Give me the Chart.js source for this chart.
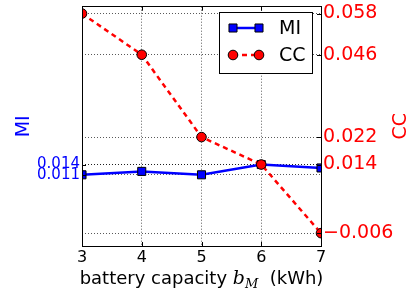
<!DOCTYPE html>
<html lang="en">
<head>
<meta charset="UTF-8">
<title>MI and CC vs battery capacity</title>
<script src="https://cdn.jsdelivr.net/npm/chart.js"></script>
<style>
  html, body { margin: 0; padding: 0; background: #fff; }
  #wrap { width: 412px; height: 292px; }
</style>
</head>
<body>
<div id="wrap"><canvas id="chart" width="412" height="292"></canvas></div>
<script>
// data
const capacity = [3, 4, 5, 6, 7];
const miValues = [0.011, 0.012, 0.011, 0.014, 0.013];
const ccValues = [0.058, 0.046, 0.022, 0.014, -0.006];
const miTicks = [0.011, 0.014];
const ccTicks = [-0.006, 0.014, 0.022, 0.046, 0.058];
const yMin = -0.00975, yMax = 0.060;

const FONT = "'DejaVu Sans', sans-serif";

function fmt(v) {
  const s = Math.abs(v).toFixed(3);
  return v < 0 ? '\u2212' + s : s;
}

// frame + inward tick marks, matplotlib style
const framePlugin = {
  id: 'frame',
  afterDatasetsDraw(chart) {
    const {ctx, chartArea: a, scales} = chart;
    ctx.save();
    ctx.strokeStyle = '#000';
    ctx.lineWidth = 1;
    ctx.setLineDash([]);
    ctx.beginPath();
    scales.x.ticks.forEach(t => {
      const px = Math.round(scales.x.getPixelForValue(t.value)) + 0.5;
      ctx.moveTo(px, a.bottom); ctx.lineTo(px, a.bottom - 4);
      ctx.moveTo(px, a.top); ctx.lineTo(px, a.top + 4);
    });
    scales.yL.ticks.forEach(t => {
      const py = Math.round(scales.yL.getPixelForValue(t.value)) + 0.5;
      ctx.moveTo(a.left, py); ctx.lineTo(a.left + 4, py);
    });
    scales.yR.ticks.forEach(t => {
      const py = Math.round(scales.yR.getPixelForValue(t.value)) + 0.5;
      ctx.moveTo(a.right, py); ctx.lineTo(a.right - 4, py);
    });
    ctx.stroke();
    ctx.strokeRect(Math.round(a.left) + 0.5, Math.round(a.top) - 0.5,
                   Math.round(a.right - a.left), Math.round(a.bottom - a.top) + 1);
    ctx.restore();
  }
};

// legend box inside the axes, upper right
const legendPlugin = {
  id: 'boxLegend',
  afterDraw(chart) {
    const ctx = chart.ctx;
    const box = {x: 219.5, y: 12.5, w: 93, h: 61};
    ctx.save();
    ctx.fillStyle = '#fff';
    ctx.fillRect(box.x, box.y, box.w, box.h);
    ctx.strokeStyle = '#000';
    ctx.lineWidth = 1;
    ctx.strokeRect(box.x, box.y, box.w, box.h);
    const rows = [28, 55];
    chart.data.datasets.forEach((ds, i) => {
      const y = rows[i];
      ctx.strokeStyle = ds.borderColor;
      ctx.lineWidth = ds.borderWidth;
      ctx.setLineDash(ds.borderDash || []);
      ctx.beginPath();
      ctx.moveTo(233, y); ctx.lineTo(259, y);
      ctx.stroke();
      ctx.setLineDash([]);
      [233, 259].forEach(px => {
        ctx.fillStyle = ds.pointBackgroundColor;
        ctx.strokeStyle = ds.pointBorderColor;
        ctx.lineWidth = ds.pointBorderWidth;
        ctx.beginPath();
        if (ds.pointStyle === 'rect') {
          const h = Math.SQRT1_2 * ds.pointRadius;
          ctx.rect(px - h, y - h, 2 * h, 2 * h);
        } else {
          ctx.arc(px, y, ds.pointRadius, 0, Math.PI * 2);
        }
        ctx.fill(); ctx.stroke();
      });
      ctx.fillStyle = '#000';
      ctx.font = '19px ' + FONT;
      ctx.textBaseline = 'middle';
      ctx.textAlign = 'left';
      ctx.fillText(ds.label, 279, y + 1);
    });
    ctx.restore();
  }
};

// x axis title with the math subscript b_M, and the right title read bottom-to-top
const titlesPlugin = {
  id: 'titles',
  afterDraw(chart) {
    const ctx = chart.ctx;
    const a = chart.chartArea;
    const base = 284;
    const p1 = 'battery capacity ';
    const p3 = '  (kWh)';
    ctx.save();
    ctx.fillStyle = '#000';
    ctx.textBaseline = 'alphabetic';
    ctx.textAlign = 'left';
    const fMain = '18px ' + FONT;
    const fB = 'italic 19px "DejaVu Serif", serif';
    const fSub = 'italic 13px "DejaVu Serif", serif';
    ctx.font = fMain; const w1 = ctx.measureText(p1).width; const w3 = ctx.measureText(p3).width;
    ctx.font = fB; const w2 = ctx.measureText('b').width;
    ctx.font = fSub; const wS = ctx.measureText('M').width;
    const total = w1 + w2 + wS + w3;
    let x = (a.left + a.right) / 2 - total / 2;
    ctx.font = fMain; ctx.fillText(p1, x, base); x += w1;
    ctx.font = fB; ctx.fillText('b', x, base); x += w2;
    ctx.font = fSub; ctx.fillText('M', x, base + 4); x += wS;
    ctx.font = fMain; ctx.fillText(p3, x, base);

    ctx.translate(401, (a.top + a.bottom) / 2);
    ctx.rotate(-Math.PI / 2);
    ctx.fillStyle = '#ff0000';
    ctx.font = '19px ' + FONT;
    ctx.textAlign = 'center';
    ctx.textBaseline = 'middle';
    ctx.fillText('CC', 0, 0);
    ctx.restore();
  }
};

const ctx = document.getElementById('chart').getContext('2d');
new Chart(ctx, {
  type: 'line',
  data: {
    datasets: [{
      label: 'MI',
      yAxisID: 'yL',
      data: capacity.map((c, i) => ({x: c, y: miValues[i]})),
      borderColor: '#0000ff',
      borderWidth: 2.5,
      pointStyle: 'rect',
      pointRadius: 5.7,
      pointBackgroundColor: '#0000ff',
      pointBorderColor: '#000',
      pointBorderWidth: 1,
      clip: 0,
      order: 1
    }, {
      label: 'CC',
      yAxisID: 'yR',
      data: capacity.map((c, i) => ({x: c, y: ccValues[i]})),
      borderColor: '#ff0000',
      borderWidth: 2.5,
      borderDash: [5, 4],
      pointStyle: 'circle',
      pointRadius: 4.8,
      pointBackgroundColor: '#ff0000',
      pointBorderColor: '#000',
      pointBorderWidth: 1,
      clip: 0,
      order: 0
    }]
  },
  options: {
    responsive: false,
    animation: false,
    layout: { padding: { top: 4, left: 0, right: 0, bottom: 0 } },
    plugins: { legend: { display: false }, tooltip: { enabled: false } },
    elements: { line: { tension: 0 } },
    scales: {
      x: {
        type: 'linear',
        min: 3, max: 7,
        afterBuildTicks: s => { s.ticks = capacity.map(v => ({value: v})); },
        afterFit: s => { s.height = 46; s.paddingLeft = 0; s.paddingRight = 0; },
        ticks: { color: '#000', font: { family: FONT, size: 16 }, padding: 2, maxRotation: 0, autoSkip: false },
        grid: { color: 'rgba(0,0,0,0.65)', lineWidth: 1, drawTicks: false },
        border: { display: false, dash: [1, 2] }
      },
      yL: {
        type: 'linear',
        position: 'left',
        min: yMin, max: yMax,
        afterBuildTicks: s => { s.ticks = miTicks.map(v => ({value: v})); },
        afterFit: s => { s.width = 82; s.paddingTop = 0; s.paddingBottom = 0; },
        ticks: { color: '#0000ff', font: { family: FONT, size: 15 }, padding: 2, autoSkip: false, callback: v => fmt(v) },
        grid: { color: 'rgba(0,0,0,0.65)', lineWidth: 1, drawTicks: false },
        border: { display: false, dash: [1, 2] },
        title: { display: true, text: 'MI', color: '#0000ff', font: { family: FONT, size: 19 }, padding: { top: 13, bottom: 0 } }
      },
      yR: {
        type: 'linear',
        position: 'right',
        min: yMin, max: yMax,
        afterBuildTicks: s => { s.ticks = ccTicks.map(v => ({value: v})); },
        afterFit: s => { s.width = 91; s.paddingTop = 0; s.paddingBottom = 0; },
        ticks: { color: '#ff0000', font: { family: FONT, size: 19 }, padding: 2, autoSkip: false, callback: v => fmt(v) },
        grid: { color: 'rgba(0,0,0,0.65)', lineWidth: 1, drawTicks: false },
        border: { display: false, dash: [1, 2] }
      }
    }
  },
  plugins: [framePlugin, legendPlugin, titlesPlugin]
});
</script>
</body>
</html>
